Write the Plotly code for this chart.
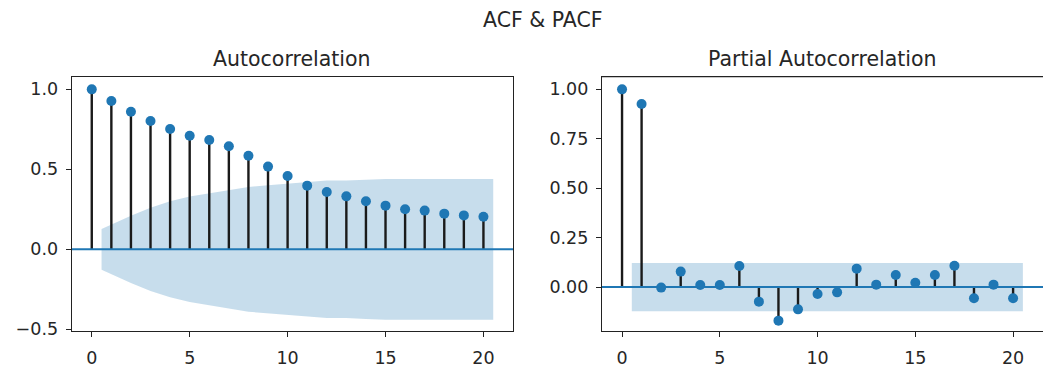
import plotly.graph_objects as go

# ---- data ----
lags = list(range(0, 21))
acf_values = [1.0, 0.927, 0.860, 0.802, 0.752, 0.710, 0.683, 0.644, 0.585, 0.517,
              0.458, 0.398, 0.358, 0.331, 0.300, 0.273, 0.250, 0.242, 0.223, 0.212, 0.204]
acf_conf_halfwidth = [0.127, 0.21, 0.26, 0.30, 0.33, 0.35, 0.37, 0.39, 0.40, 0.41,
                      0.42, 0.43, 0.43, 0.435, 0.44, 0.44, 0.44, 0.44, 0.44, 0.44]
pacf_values = [1.0, 0.926, -0.003, 0.078, 0.010, 0.010, 0.106, -0.074, -0.170, -0.113,
               -0.035, -0.027, 0.093, 0.012, 0.061, 0.022, 0.061, 0.108, -0.057, 0.012, -0.057]
pacf_conf_halfwidth = [0.122] * 20

acf_yticks = [-0.5, 0.0, 0.5, 1.0]
acf_yticklabels = ["\u22120.5", "0.0", "0.5", "1.0"]
pacf_yticks = [0.0, 0.25, 0.50, 0.75, 1.00]
pacf_yticklabels = ["0.00", "0.25", "0.50", "0.75", "1.00"]
xticks = [0, 5, 10, 15, 20]

suptitle = "ACF & PACF"
titles = ["Autocorrelation", "Partial Autocorrelation"]

# ---- style ----
W, H = 1043, 369
BLUE = "#1f77b4"
BAND = "rgba(31,119,180,0.25)"
STEM = "#1a1a1a"
FONT = "DejaVu Sans"
TICK_SIZE = 17.5
TITLE_SIZE = 20.5

x_range = [-1.025, 21.525]
x_range_right = [-1.025, 21.53]
acf_yrange = [-0.5125, 1.079]
pacf_yrange = [-0.224, 1.064]

ytop_px, ybot_px = 76.7, 331.3
ydom = [1 - ybot_px / H, 1 - ytop_px / H]
xdom_left = [71.7 / W, 513.3 / W]
xdom_right = [602.0 / W, 1.0]

fig = go.Figure()


def add_panel(vals, half, xa, ya, xr):
    # confidence band (first lag shifted -0.5, last +0.5)
    bx = [float(l) for l in lags[1:]]
    bx[0] -= 0.5
    bx[-1] += 0.5
    upper = list(half)
    lower = [-h for h in half]
    fig.add_trace(go.Scatter(x=bx + bx[::-1], y=upper + lower[::-1], fill="toself",
                             fillcolor=BAND, line=dict(width=0), mode="lines",
                             hoverinfo="skip", showlegend=False, xaxis=xa, yaxis=ya))
    # stems
    sx, sy = [], []
    for l, v in zip(lags, vals):
        sx += [l, l, None]
        sy += [0, v, None]
    fig.add_trace(go.Scatter(x=sx, y=sy, mode="lines", line=dict(color=STEM, width=2.4),
                             hoverinfo="skip", showlegend=False, xaxis=xa, yaxis=ya))
    # horizontal zero line across the axes
    fig.add_trace(go.Scatter(x=[xr[0], xr[1]], y=[0, 0], mode="lines",
                             line=dict(color=BLUE, width=2), hoverinfo="skip",
                             showlegend=False, xaxis=xa, yaxis=ya, cliponaxis=False))
    # markers
    fig.add_trace(go.Scatter(x=lags, y=vals, mode="markers",
                             marker=dict(color=BLUE, size=10, line=dict(width=0)),
                             showlegend=False, xaxis=xa, yaxis=ya))


add_panel(acf_values, acf_conf_halfwidth, "x", "y", x_range)
add_panel(pacf_values, pacf_conf_halfwidth, "x2", "y2", x_range_right)

axis_common = dict(showgrid=False, zeroline=False, ticks="outside", ticklen=5,
                   tickwidth=1.2, tickcolor="#222", showline=True, linecolor="#222",
                   linewidth=1.2, tickfont=dict(family=FONT, size=TICK_SIZE, color="#262626"),
                   automargin=False)
xaxis_common = dict(axis_common, ticklabelstandoff=6)
yaxis_common = dict(axis_common, ticklabelstandoff=4)

fig.update_layout(
    width=W, height=H,
    margin=dict(l=0, r=0, t=0, b=0, pad=0),
    paper_bgcolor="white", plot_bgcolor="white",
    font=dict(family=FONT, color="#262626"),
    xaxis=dict(domain=xdom_left, range=x_range, tickvals=xticks, mirror=True,
               anchor="y", **xaxis_common),
    yaxis=dict(domain=ydom, range=acf_yrange, tickvals=acf_yticks,
               ticktext=acf_yticklabels, mirror=True, anchor="x", **yaxis_common),
    xaxis2=dict(domain=xdom_right, range=x_range_right, tickvals=xticks, mirror=True,
                anchor="y2", **xaxis_common),
    yaxis2=dict(domain=ydom, range=pacf_yrange, tickvals=pacf_yticks,
                ticktext=pacf_yticklabels, mirror=False, anchor="x2", **yaxis_common),
    annotations=[
        dict(text=suptitle, x=542.5 / W, y=1 - 20 / H, xref="paper", yref="paper",
             xanchor="center", yanchor="middle", showarrow=False,
             font=dict(family=FONT, size=TITLE_SIZE, color="#262626")),
        dict(text=titles[0], x=(xdom_left[0] + xdom_left[1]) / 2, y=1 - 59 / H,
             xref="paper", yref="paper", xanchor="center", yanchor="middle",
             showarrow=False, font=dict(family=FONT, size=TITLE_SIZE, color="#262626")),
        dict(text=titles[1], x=822.5 / W, y=1 - 59 / H,
             xref="paper", yref="paper", xanchor="center", yanchor="middle",
             showarrow=False, font=dict(family=FONT, size=TITLE_SIZE, color="#262626")),
    ],
)

# top border for the right panel (its right edge is cut off in the reference)
fig.add_shape(type="line", xref="x2 domain", yref="y2 domain", x0=0, x1=1, y0=1, y1=1,
              line=dict(color="#222", width=1.2))

fig.write_html("out.html", config={"displayModeBar": False},
               post_script="document.body.style.margin='0';document.body.style.overflow='hidden';")
